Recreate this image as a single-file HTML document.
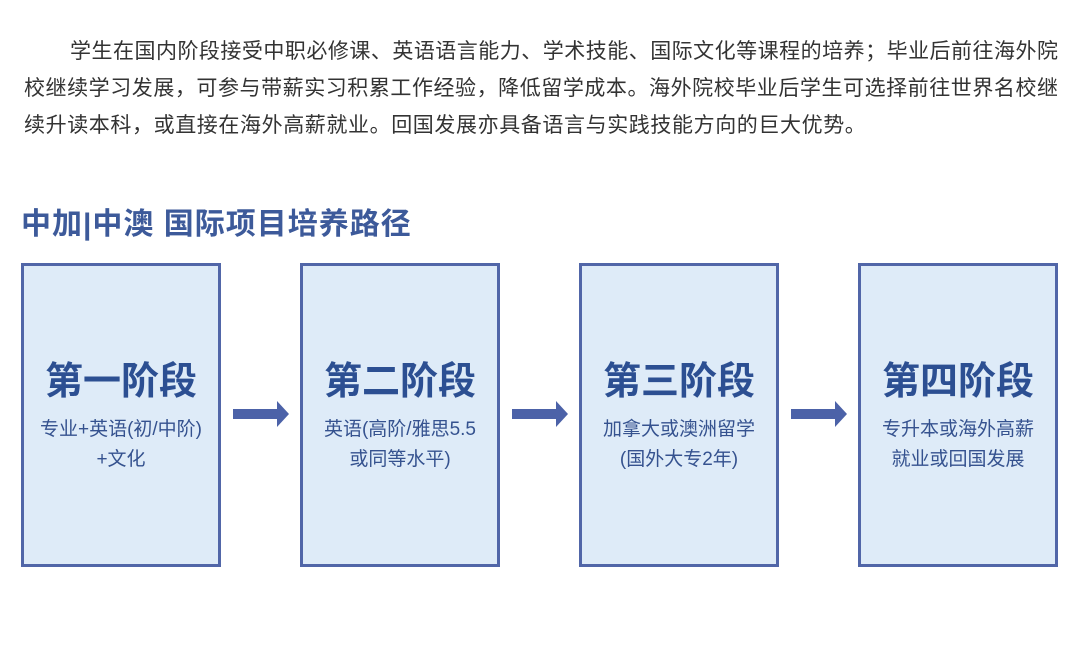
<!DOCTYPE html>
<html><head><meta charset="utf-8"><style>
body{margin:0;width:1080px;height:651px;background:#fff;position:relative;overflow:hidden;font-family:"Liberation Sans","Noto Sans CJK SC",sans-serif}
.p{position:absolute;left:24px;top:33px;width:1034px;font-size:21px;line-height:37px;color:#333}
.p div{text-align:justify;text-align-last:justify;white-space:nowrap}
.p div.l{text-align-last:left;letter-spacing:0.6px}
.t{position:absolute;left:21px;top:199px;font-size:30px;font-weight:bold;color:#3d5a9a;letter-spacing:1px}
.b{position:absolute;top:263px;width:194px;height:298px;border:3px solid #5166a8;background:#deebf8;text-align:center;color:#2c4f92}
.b h{display:block;margin-top:91px;font-size:38px;font-weight:bold;line-height:50px}
.b s{display:block;text-decoration:none;margin-top:8px;font-size:19px;line-height:30px;color:#35528f}
.a{position:absolute;top:409px;width:46px;height:10px;background:#4c62a8}
.a:after{content:"";position:absolute;left:44px;top:-8px;border-left:12px solid #4c62a8;border-top:13px solid transparent;border-bottom:13px solid transparent}
</style></head><body>
<div class="p">
<div style="padding-left:46px;white-space:normal">学生在国内阶段接受中职必修课、英语语言能力、学术技能、国际文化等课程的培养；毕业后前往海外院</div>
<div style="white-space:normal">校继续学习发展，可参与带薪实习积累工作经验，降低留学成本。海外院校毕业后学生可选择前往世界名校继</div>
<div class="l">续升读本科，或直接在海外高薪就业。回国发展亦具备语言与实践技能方向的巨大优势。</div>
</div>
<div class="t">中加|中澳 国际项目培养路径</div>
<div class="b" style="left:21px"><h>第一阶段</h><s>专业+英语(初/中阶)<br>+文化</s></div>
<div class="b" style="left:300px"><h>第二阶段</h><s>英语(高阶/雅思5.5<br>或同等水平)</s></div>
<div class="b" style="left:579px"><h>第三阶段</h><s>加拿大或澳洲留学<br>(国外大专2年)</s></div>
<div class="b" style="left:858px"><h>第四阶段</h><s>专升本或海外高薪<br>就业或回国发展</s></div>
<div class="a" style="left:233px"></div>
<div class="a" style="left:512px"></div>
<div class="a" style="left:791px"></div>
</body></html>
